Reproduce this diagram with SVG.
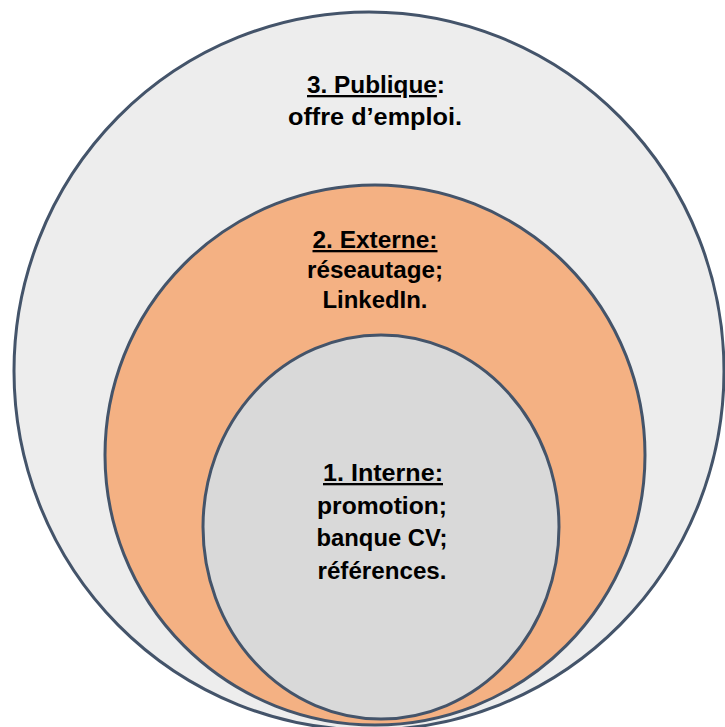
<svg xmlns="http://www.w3.org/2000/svg" width="725" height="727" viewBox="0 0 725 727">
<style>
.ring{stroke:#44546a;stroke-width:3}
.t{font-family:"Liberation Sans",Arial,sans-serif;font-weight:bold;font-size:23px;fill:#000;text-anchor:middle}
.u{text-decoration:underline}
</style>
<rect width="725" height="727" fill="#ffffff"/>
<g id="node-publique">
<ellipse class="ring" cx="369" cy="371" rx="355" ry="359" fill="#ededed"/>
<text class="t" x="376" y="93" textLength="138" lengthAdjust="spacingAndGlyphs"><tspan class="u">3. Publique</tspan>:</text>
<text class="t" x="375" y="125" textLength="174" lengthAdjust="spacingAndGlyphs">offre d’emploi.</text>
</g>
<g id="node-externe">
<ellipse class="ring" cx="375" cy="455" rx="270" ry="270" fill="#f4b183"/>
<text class="t" x="375" y="248" textLength="125" lengthAdjust="spacingAndGlyphs"><tspan class="u">2. Externe:</tspan></text>
<text class="t" x="375" y="278" textLength="136" lengthAdjust="spacingAndGlyphs">réseautage;</text>
<text class="t" x="375" y="308" textLength="105" lengthAdjust="spacingAndGlyphs">LinkedIn.</text>
</g>
<g id="node-interne">
<ellipse class="ring" cx="381" cy="527" rx="178" ry="192" fill="#d9d9d9"/>
<text class="t" x="383" y="481" textLength="120" lengthAdjust="spacingAndGlyphs"><tspan class="u">1. Interne:</tspan></text>
<text class="t" x="382" y="514" textLength="130" lengthAdjust="spacingAndGlyphs">promotion;</text>
<text class="t" x="382" y="546" textLength="131" lengthAdjust="spacingAndGlyphs">banque CV;</text>
<text class="t" x="382" y="579" textLength="129" lengthAdjust="spacingAndGlyphs">références.</text>
</g>
<g id="connectors"></g>
</svg>
